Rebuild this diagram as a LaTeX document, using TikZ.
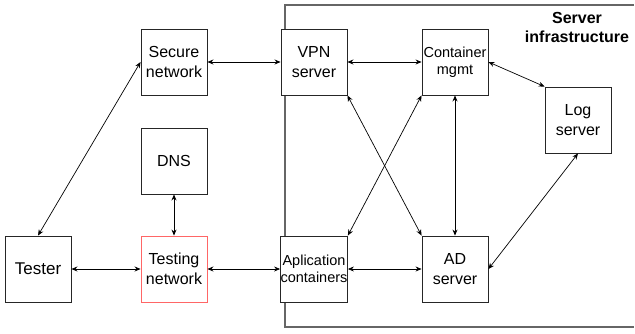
\documentclass[tikz,border=0pt]{standalone}
\usepackage{fontspec}
\setmainfont{Liberation Sans}
\usetikzlibrary{arrows.meta}

\tikzset{
  box/.style={draw=black!85, line width=0.9pt, minimum width=66pt, minimum height=66pt,
    inner sep=0pt, align=center, font=\fontsize{16}{19.5}\selectfont},
  smallbox/.style={box, font=\fontsize{14.5}{17.5}\selectfont},
  link/.style={{Stealth[length=6pt,width=5pt]}-{Stealth[length=6pt,width=5pt]}, line width=0.7pt}
}

\begin{document}
\begin{tikzpicture}[x=1pt,y=-1pt]
      \useasboundingbox (0,0) rectangle (635,333);
      % server infrastructure frame
      \draw[black!60, line width=1.1pt] (634,5) -- (285,5) -- (285,327) -- (634,327);
      \node[font=\fontsize{16}{19}\selectfont\bfseries, align=center] (infra) at (577,27) {Server\\infrastructure};

      \node[box] (secure) at (174,62) {Secure\\network};
      \node[box] (dns) at (174,161) {DNS};
      \node[box, font=\fontsize{17}{20}\selectfont] (tester) at (38,269) {Tester};
      \node[box, draw=red!60] (testing) at (174,269) {Testing\\network};
      \node[box, fill=white] (vpn) at (314,62) {VPN\\server};
      \node[smallbox, fill=white] (apps) at (314,269) {Aplication\\containers};
      \node[smallbox] (mgmt) at (455,62) {Container\\mgmt};
      \node[box] (ad) at (455,269) {AD\\server};
      \node[box] (log) at (578,120) {Log\\server};

      \draw[link] (secure) -- (vpn);
      \draw[link] (vpn) -- (mgmt);
      \draw[link] (mgmt.east) -- (log.north west);
      \draw[link] (log.south) -- (ad.east);
      \draw[link] (vpn.south east) -- (ad.north west);
      \draw[link] (mgmt.south west) -- (apps.north east);
      \draw[link] (mgmt) -- (ad);
      \draw[link] (apps) -- (ad);
      \draw[link] (testing) -- (apps);
      \draw[link] (tester) -- (testing);
      \draw[link] (dns) -- (testing);
      \draw[link] (tester.north) -- (secure.west);
    \end{tikzpicture}
\end{document}
